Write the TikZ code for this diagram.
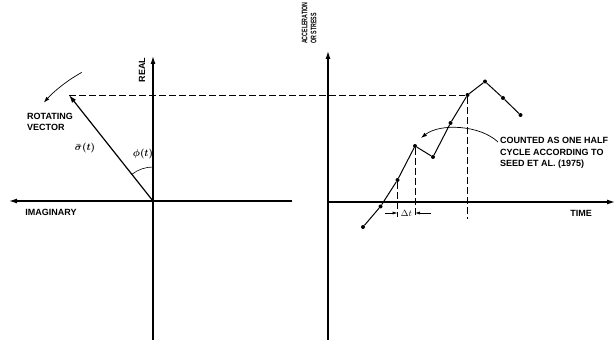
\documentclass[tikz,border=0pt]{standalone}
\usepackage{fontspec}
\setmainfont{Liberation Sans}
\usepackage{tikz}
\usetikzlibrary{arrows.meta}

\tikzset{
  lbl/.style={font=\fontsize{9}{11.5}\selectfont\bfseries, inner sep=0pt, align=left},
  axis/.style={line width=1.2pt, -{Latex[length=8pt,width=5pt]}},
  guide/.style={line width=0.6pt, dash pattern=on 7pt off 3pt},
  dot/.style={circle, fill=black, inner sep=0pt, minimum size=4pt},
}

\begin{document}
\begin{tikzpicture}[x=1pt,y=1pt]
            \useasboundingbox (0,0) rectangle (616,343);
            % rotating vector
            \coordinate (o1) at (153,142);
            \coordinate (rb) at (153,3);
            \coordinate (rt) at (153,287);
            \coordinate (ir) at (292,142);
            \coordinate (il) at (9,142);
            \coordinate (v) at (69,248);
            \draw[axis] (rb) -- (rt);
            \draw[axis] (ir) -- (il);
            \draw[line width=1.2pt, -{Latex[length=8pt,width=5pt]}] (o1) -- (v);
            \draw[line width=0.6pt] (o1) ++(90:34) arc[start angle=90, end angle=128, radius=34];
            \draw[line width=0.7pt, -{Latex[length=6pt,width=4pt]}] (o1) ++(119:147) arc[start angle=119, end angle=138, radius=147];
            \node[lbl, rotate=90] (real) at (142,273) {REAL};
            \node[lbl] (imag) at (51,131) {IMAGINARY};
            \node[lbl, anchor=west] (rot) at (27,221) {ROTATING\\VECTOR};
            \node[lbl, font=\fontsize{10}{12}\selectfont\boldmath] (sig) at (85,195) {$\bar{\sigma}(t)$};
            \node[lbl, font=\fontsize{10}{12}\selectfont\boldmath] (phi) at (143,189) {$\phi(t)$};
            % time history
            \coordinate (o2) at (328,141);
            \coordinate (ab) at (328,3);
            \coordinate (at) at (328,292);
            \coordinate (tr) at (615,141);
            \draw[axis] (ab) -- (at);
            \draw[axis] (o2) -- (tr);
            \node[font=\fontsize{8}{9}\selectfont\bfseries, inner sep=0pt, align=left,
                  rotate=90, xscale=0.66, anchor=west] (acc) at (309,299) {ACCELERATION\\OR STRESS};
            \node[lbl] (time) at (581,130) {TIME};
            \foreach \n/\px/\py in {1/363/116, 2/380.5/136.5, 3/397.5/163, 4/415/197, 5/433/186,
                                    6/450.5/220, 7/467.5/248, 8/485/261.5, 9/503/245, 10/520.5/228}
              \node[dot] (p\n) at (\px,\py) {};
            \draw[line width=1pt] (p1) -- (p2) -- (p3) -- (p4) -- (p5) -- (p6) -- (p7) -- (p8) -- (p9) -- (p10);
            \draw[guide] (v) -- (p7);
            \coordinate (dl) at (385,130);
            \coordinate (dr) at (431,130);
            \draw[guide] (p3) -- (p3 |- 0,126);
            \draw[guide] (p4) -- (p4 |- 0,126);
            \draw[guide] (p7) -- (p7 |- 0,124);
            \draw[line width=0.6pt, -{Latex[length=5pt,width=3pt]}] (dl) -- (p3 |- dl);
            \draw[line width=0.6pt, -{Latex[length=5pt,width=3pt]}] (dr) -- (p4 |- dr);
            \node[lbl] (dt) at (406.5,130) {$\Delta t$};
            \node[lbl, anchor=west] (cnt) at (500,190) {COUNTED AS ONE HALF\\CYCLE ACCORDING TO\\SEED ET AL. (1975)};
            \coordinate (c0) at (498,201);
            \coordinate (c1) at (421,205);
            \draw[line width=0.7pt, -{Latex[length=6pt,width=4pt]}] (c0) .. controls (480,218) and (440,220) .. (c1);
        \end{tikzpicture}
\end{document}
